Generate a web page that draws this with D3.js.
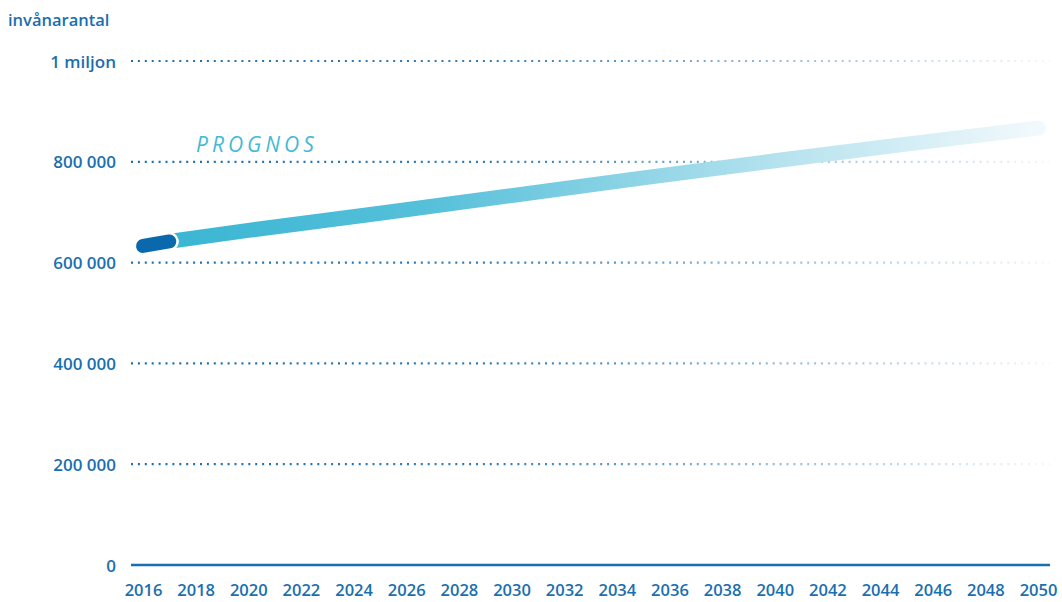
<!DOCTYPE html>
<html>
<head>
<meta charset="utf-8">
<script src="https://cdn.jsdelivr.net/npm/d3@7"></script>
<style>
  body { margin: 0; background: #fff; }
  text { font-family: "Open Sans", sans-serif; }
</style>
</head>
<body>
<script>
// data
var yTicks = [0, 200000, 400000, 600000, 800000, 1000000];
var yTickLabels = ["0", "200 000", "400 000", "600 000", "800 000", "1 miljon"];
var xTicks = d3.range(2016, 2051, 2);
var histYears = [2016, 2017];
var histValues = [633000, 642000];
var progYears = [2017, 2020, 2025, 2030, 2035, 2040, 2045, 2050];
var progValues = [642000, 664000, 698000, 733000, 768000, 802000, 835000, 867000];

var w = 1062, h = 602;
var blue = "#1a6fb0";

var svg = d3.select("body").append("svg")
  .attr("width", w)
  .attr("height", h);

var x = d3.scaleLinear().domain([2016, 2050]).range([143, 1038]);
var y = d3.scaleLinear().domain([0, 1000000]).range([565, 61]);

var defs = svg.append("defs");
var gridGrad = defs.append("linearGradient")
  .attr("id", "gridFade")
  .attr("gradientUnits", "userSpaceOnUse")
  .attr("x1", 131).attr("x2", 1050).attr("y1", 0).attr("y2", 0);
gridGrad.append("stop").attr("offset", 0).attr("stop-color", blue).attr("stop-opacity", 1);
gridGrad.append("stop").attr("offset", 0.4).attr("stop-color", blue).attr("stop-opacity", 0.9);
gridGrad.append("stop").attr("offset", 1).attr("stop-color", blue).attr("stop-opacity", 0.05);

var lineGrad = defs.append("linearGradient")
  .attr("id", "lineFade")
  .attr("gradientUnits", "userSpaceOnUse")
  .attr("x1", x(2017)).attr("x2", x(2050)).attr("y1", 0).attr("y2", 0);
lineGrad.append("stop").attr("offset", 0).attr("stop-color", "#3ab6d3");
lineGrad.append("stop").attr("offset", 0.3).attr("stop-color", "#56c0da");
lineGrad.append("stop").attr("offset", 0.7).attr("stop-color", "#b5e2ee");
lineGrad.append("stop").attr("offset", 1).attr("stop-color", "#f2f9fc");

// y axis: dotted grid + labels
var yAxis = d3.axisLeft(y)
  .tickValues(yTicks)
  .tickFormat(function(d, i) { return yTickLabels[i]; })
  .tickSize(0)
  .tickPadding(0);

var gy = svg.append("g")
  .attr("transform", "translate(116,0)")
  .call(yAxis);
gy.select(".domain").remove();
gy.selectAll("text")
  .attr("fill", blue)
  .attr("font-size", 17)
  .attr("font-weight", 600)
  .attr("dy", "0.36em");

svg.append("g").selectAll("line")
  .data(yTicks.filter(function(d) { return d > 0; }))
  .enter().append("line")
  .attr("x1", 131).attr("x2", 1050)
  .attr("y1", function(d) { return y(d); })
  .attr("y2", function(d) { return y(d); })
  .attr("stroke", "url(#gridFade)")
  .attr("stroke-width", 2.2)
  .attr("stroke-dasharray", "2,4.9");

svg.append("line")
  .attr("x1", 131).attr("x2", 1050)
  .attr("y1", y(0)).attr("y2", y(0))
  .attr("stroke", blue)
  .attr("stroke-width", 2.5);

// x axis labels
var xAxis = d3.axisBottom(x)
  .tickValues(xTicks)
  .tickFormat(d3.format("d"))
  .tickSize(0)
  .tickPadding(0);
var gx = svg.append("g")
  .attr("transform", "translate(0,596)")
  .call(xAxis);
gx.select(".domain").remove();
gx.selectAll("text")
  .attr("fill", blue)
  .attr("font-size", 16.5)
  .attr("font-weight", 600)
  .attr("dy", "0");

svg.append("text")
  .attr("x", 8).attr("y", 26)
  .attr("fill", blue)
  .attr("font-size", 16.5)
  .attr("font-weight", 600)
  .text("invånarantal");

// forecast line
var line = d3.line()
  .x(function(d) { return x(d[0]); })
  .y(function(d) { return y(d[1]); });

svg.append("path")
  .datum(d3.zip(progYears, progValues))
  .attr("d", line)
  .attr("fill", "none")
  .attr("stroke", "url(#lineFade)")
  .attr("stroke-width", 15)
  .attr("stroke-linecap", "round");

// historical segment with white outline
svg.append("path")
  .datum(d3.zip(histYears, histValues))
  .attr("d", line)
  .attr("fill", "none")
  .attr("stroke", "#fff")
  .attr("stroke-width", 19)
  .attr("stroke-linecap", "round");
svg.append("path")
  .datum(d3.zip(histYears, histValues))
  .attr("d", line)
  .attr("fill", "none")
  .attr("stroke", "#0a69ad")
  .attr("stroke-width", 14)
  .attr("stroke-linecap", "round");

svg.append("text")
  .attr("x", 196).attr("y", 152)
  .attr("fill", "#45b9d5")
  .attr("font-size", 21)
  .attr("font-style", "italic")
  .attr("font-weight", 500)
  .attr("letter-spacing", 4)
  .text("PROGNOS");
</script>
</body>
</html>
